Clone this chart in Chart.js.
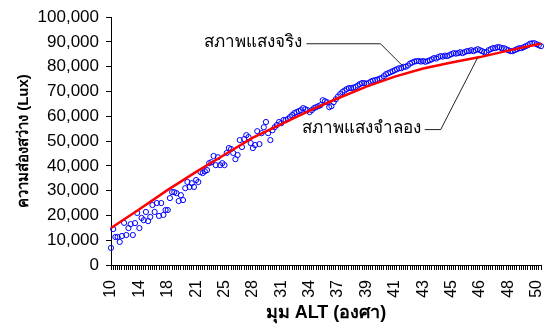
<!DOCTYPE html>
<html>
<head>
<meta charset="utf-8">
<script src="https://cdn.jsdelivr.net/npm/chart.js@4.4.0/dist/chart.umd.min.js"></script>
<style>
  html, body { margin: 0; padding: 0; background: #fff; }
  #wrap { width: 546px; height: 324px; }
</style>
</head>
<body>
<div id="wrap"><canvas id="luxChart" width="546" height="324"></canvas></div>
<script>
// ALT angle tick labels, one every 13 samples
const altTicks = ["10", "14", "18", "21", "25", "28", "31", "34", "37", "39", "41", "43", "45", "46", "48", "50"];
const labelEvery = 13;
const sampleCount = 198;

// measured illuminance (Lux), one value per sample
const measured = [
  6900, 14500, 11300, 11300, 9300, 11700, 17000, 12100, 14900, 16500,
  12100, 16900, 21000, 14900, 19000, 18100, 21400, 17700, 19400, 24200,
  21400, 25000, 19800, 25000, 20200, 22200, 22200, 27000, 29400, 29400,
  29000, 25800, 28200, 26200, 31000, 33500,
  31500, 33000, 31500, 34300, 33500, 37500, 37100, 37800, 38300, 41100,
  41500, 44000, 40300, 43500, 40300, 41100, 40300, 45200, 47200, 46800,
  45200, 42700, 44400, 50400, 47600, 50800, 52400, 51600, 49200, 47200,
  48400, 54000, 48800, 53200, 55600,
  57700, 53200, 50400, 54400, 55600, 56500, 57700, 57200, 58500, 58500,
  58900, 59700, 60500, 61300, 61700, 62100, 62500, 63300, 62900, 62500,
  61700, 62500, 63300, 63700, 64100, 64500, 66500, 66100, 65700, 63700,
  64100, 65700, 66900, 68000,
  69000, 69800, 70400, 71000, 71400, 71400, 71600, 71800, 72400, 73000,
  73400, 73400, 73200, 73400, 74000, 74400, 74600, 74800, 75200, 75400,
  76200, 77000, 77400, 77800, 78200, 78600, 79000, 79400, 79400, 80000,
  80000, 80500, 81300, 81700, 82100, 82300, 82300, 82100, 82300, 82000,
  82300, 82600, 83000, 83500, 83300, 83900, 84300, 84100, 84500, 84300,
  84700, 85100, 85500, 85300, 85500, 85900, 85500, 85900, 86300, 86300,
  86700, 86300, 86700, 87100, 86700, 86300, 85900, 85900, 86700, 87100,
  87500, 87500, 87900, 87900, 87500, 87500, 87100, 86700, 86300, 86300,
  86700, 87100, 87500, 87500, 87900, 88300, 88700, 89300, 89500, 89500,
  89100, 88700, 88300
];

// simulated illuminance (Lux), read at each labelled sample, plus the last sample
const simulatedAtTicks = [14900, 22500, 30300, 37600, 44500, 51400, 56900, 62300, 67300, 72000, 76000, 79300, 81700, 83900, 86500, 89000];
const simulatedLast = 89300;

// y axis
const yMax = 100000;
const yStep = 10000;

// callout texts, anchored in data units
const callouts = [
  { text: "สภาพแสงจริง", index: 134, value: 80000, elbow: [-23, -23], run: 74 },
  { text: "สภาพแสงจำลอง", index: 168, value: 83700, elbow: [-37, 72], run: 16 },
];

// build category labels and the sparse simulated line
const categories = [];
const simulated = [];
for (let i = 0; i < sampleCount; i++) {
  categories.push(i % labelEvery === 0 ? altTicks[i / labelEvery] : "");
  simulated.push(i % labelEvery === 0 ? simulatedAtTicks[i / labelEvery] : null);
}
simulated[sampleCount - 1] = simulatedLast;

const fontFamily = "'Liberation Sans', Arial, 'Noto Sans', sans-serif";
Chart.defaults.font.family = fontFamily;
Chart.defaults.color = "#000";

// draws the two text labels with their leader lines
const calloutPlugin = {
  id: "callouts",
  afterDatasetsDraw(chart) {
    const { ctx } = chart;
    const x = chart.scales.x;
    const y = chart.scales.y;
    ctx.save();
    ctx.strokeStyle = "#222";
    ctx.lineWidth = 1;
    ctx.fillStyle = "#000";
    ctx.font = "17px " + fontFamily;
    ctx.textAlign = "right";
    ctx.textBaseline = "middle";
    callouts.forEach((c) => {
      const tx = x.getPixelForValue(c.index);
      const ty = y.getPixelForValue(c.value);
      const ex = tx + c.elbow[0];
      const ey = ty + c.elbow[1];
      const sx = ex - c.run;
      ctx.beginPath();
      ctx.moveTo(tx, ty);
      ctx.lineTo(ex, ey);
      ctx.lineTo(sx, ey);
      ctx.stroke();
      ctx.fillText(c.text, sx - 4, ey - 1);
    });
    ctx.restore();
  },
};

const ctx = document.getElementById("luxChart").getContext("2d");
const luxChart = new Chart(ctx, {
  type: "line",
  data: {
    labels: categories,
    datasets: [
      {
        label: "สภาพแสงจำลอง",
        data: simulated,
        borderColor: "#ff0000",
        borderWidth: 2.5,
        pointRadius: 0,
        spanGaps: true,
        tension: 0,
        fill: false,
        order: 0,
      },
      {
        label: "สภาพแสงจริง",
        data: measured,
        showLine: false,
        pointStyle: "circle",
        pointRadius: 2.6,
        pointBorderWidth: 1,
        pointBorderColor: "#0000ff",
        pointBackgroundColor: "rgba(0,0,0,0)",
        order: 1,
      },
    ],
  },
  options: {
    responsive: false,
    animation: false,
    devicePixelRatio: 1,
    layout: { padding: { top: 17, right: 1, left: 0, bottom: 0 } },
    plugins: {
      legend: { display: false },
      tooltip: { enabled: false },
    },
    scales: {
      x: {
        type: "category",
        offset: false,
        grid: {
          drawOnChartArea: false,
          tickLength: 5,
          color: "#000",
          lineWidth: 1,
        },
        border: { display: true, color: "#000", width: 1 },
        ticks: {
          autoSkip: false,
          minRotation: 90,
          maxRotation: 90,
          padding: 10,
          font: { size: 16 },
          color: "#000",
        },
        title: {
          display: true,
          text: "มุม ALT (องศา)",
          font: { size: 18, weight: "bold" },
          color: "#000",
          padding: { top: 0, bottom: 0 },
        },
        afterFit(scale) {
          scale.height = 59;
          scale.paddingLeft = 0;
          scale.paddingRight = 0;
        },
      },
      y: {
        min: 0,
        max: yMax,
        grid: {
          drawOnChartArea: false,
          tickLength: 5,
          color: "#000",
          lineWidth: 1,
        },
        border: { display: true, color: "#000", width: 1 },
        ticks: {
          stepSize: yStep,
          padding: 7,
          font: { size: 17 },
          color: "#000",
          callback: (v) => v.toLocaleString("en-US"),
        },
        title: {
          display: true,
          text: "ความส่องสว่าง (Lux)",
          font: { size: 15, weight: "bold" },
          color: "#000",
          padding: { top: 15, bottom: 0 },
        },
        afterFit(scale) {
          scale.width = 111;
        },
      },
    },
  },
  plugins: [calloutPlugin],
});
</script>
</body>
</html>
